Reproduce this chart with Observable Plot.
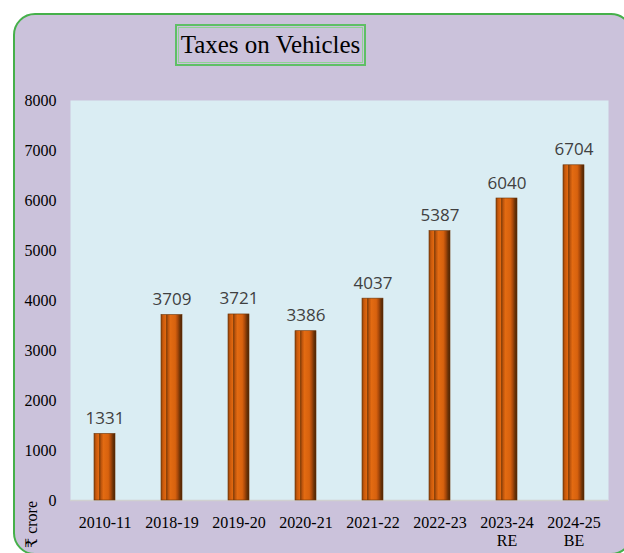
<!DOCTYPE html>
<html>
<head>
<meta charset="utf-8">
<script src="https://cdn.jsdelivr.net/npm/d3@7"></script>
<script src="https://cdn.jsdelivr.net/npm/@observablehq/plot@0.6"></script>
<style>
  html, body { margin: 0; padding: 0; background: #ffffff; }
  body { width: 624px; height: 553px; overflow: hidden; position: relative; }
  #panel {
    position: absolute; left: 13px; top: 13px; width: 620px; height: 542px;
    background: #cbc2db; border: 2px solid #45b04a; border-radius: 22px; box-sizing: border-box;
  }
  #title {
    position: absolute; left: 175px; top: 24px; width: 191px; height: 42px; box-sizing: border-box;
    border: 2px solid #5fbf66; outline: 1px solid #8fd394; outline-offset: -4px;
    font-family: "Liberation Serif", "Times New Roman", serif; font-size: 25px; color: #000;
    display: flex; align-items: center; justify-content: center; background: #cbc2db;
  }
  #chart { position: absolute; left: 0; top: 0; }
  #unit {
    position: absolute; left: 22px; top: 548px; transform-origin: 0 0; transform: rotate(-90deg);
    font-family: "Liberation Serif", "DejaVu Serif", serif; font-size: 16px; color: #000; white-space: nowrap;
  }
</style>
</head>
<body>
<div id="panel"></div>
<div id="title">Taxes on Vehicles</div>
<div id="chart"></div>
<div id="unit">₹ crore</div>
<script>
const years = ["2010-11", "2018-19", "2019-20", "2020-21", "2021-22", "2022-23", "2023-24", "2024-25"];
const suffixes = ["", "", "", "", "", "", "RE", "BE"];
const values = [1331, 3709, 3721, 3386, 4037, 5387, 6040, 6704];
const yTicks = [0, 1000, 2000, 3000, 4000, 5000, 6000, 7000, 8000];

const data = years.map((y, i) => ({year: y, suffix: suffixes[i], value: values[i]}));
const labelOf = Object.fromEntries(data.map(d => [d.year, d.suffix ? d.year + "\n" + d.suffix : d.year]));

const plot = Plot.plot({
  width: 624,
  height: 553,
  marginLeft: 70,
  marginRight: 16,
  marginTop: 100,
  marginBottom: 53,
  style: {background: "transparent", overflow: "visible"},
  x: {domain: years, paddingInner: 0.69, paddingOuter: 0.345, label: null},
  y: {domain: [0, 8000], label: null},
  marks: [
    Plot.frame({fill: "#daedf3", stroke: null}),
    Plot.ruleY([0], {stroke: "#d0d0d0", strokeWidth: 1.5}),
    Plot.barY(data, {x: "year", y: "value", fill: "url(#barGrad)", stroke: "#6b3306", strokeWidth: 0.6}),
    Plot.tickY(data, {x: "year", y: "value", stroke: "url(#capGrad)", strokeWidth: 6, dy: 3.5, insetLeft: 24, insetRight: 24}),
    Plot.text(data, {x: "year", y: "value", text: d => String(d.value), dy: -10, lineAnchor: "bottom",
      fill: "#404040", fontSize: 17, fontFamily: "'Open Sans', sans-serif"}),
    Plot.axisY({ticks: yTicks, tickSize: 0, tickPadding: 14, tickFormat: d => String(d),
      fontSize: 16, fontFamily: "'Liberation Serif', serif", fill: "#000"}),
    Plot.axisX({tickSize: 0, tickPadding: 15, tickFormat: d => labelOf[d], lineHeight: 1.12,
      fontSize: 16, fontFamily: "'Liberation Serif', serif", fill: "#000"})
  ]
});

const ns = "http://www.w3.org/2000/svg";
const defs = document.createElementNS(ns, "defs");
defs.innerHTML = `
  <linearGradient id="barGrad" x1="0" y1="0" x2="1" y2="0">
    <stop offset="0" stop-color="#8a420a"/>
    <stop offset="0.1" stop-color="#c9590c"/>
    <stop offset="0.22" stop-color="#e06810"/>
    <stop offset="0.27" stop-color="#7e3c08"/>
    <stop offset="0.33" stop-color="#b8520c"/>
    <stop offset="0.45" stop-color="#e36b12"/>
    <stop offset="0.68" stop-color="#d8620e"/>
    <stop offset="0.8" stop-color="#a8480a"/>
    <stop offset="0.9" stop-color="#6e3306"/>
    <stop offset="1" stop-color="#4a2204"/>
  </linearGradient>
  <linearGradient id="capGrad" x1="0" y1="0" x2="1" y2="0">
    <stop offset="0" stop-color="#e8741c"/>
    <stop offset="0.5" stop-color="#ff9a3a"/>
    <stop offset="1" stop-color="#d86a14"/>
  </linearGradient>`;
plot.insertBefore(defs, plot.firstChild);
document.getElementById("chart").appendChild(plot);
</script>
</body>
</html>
